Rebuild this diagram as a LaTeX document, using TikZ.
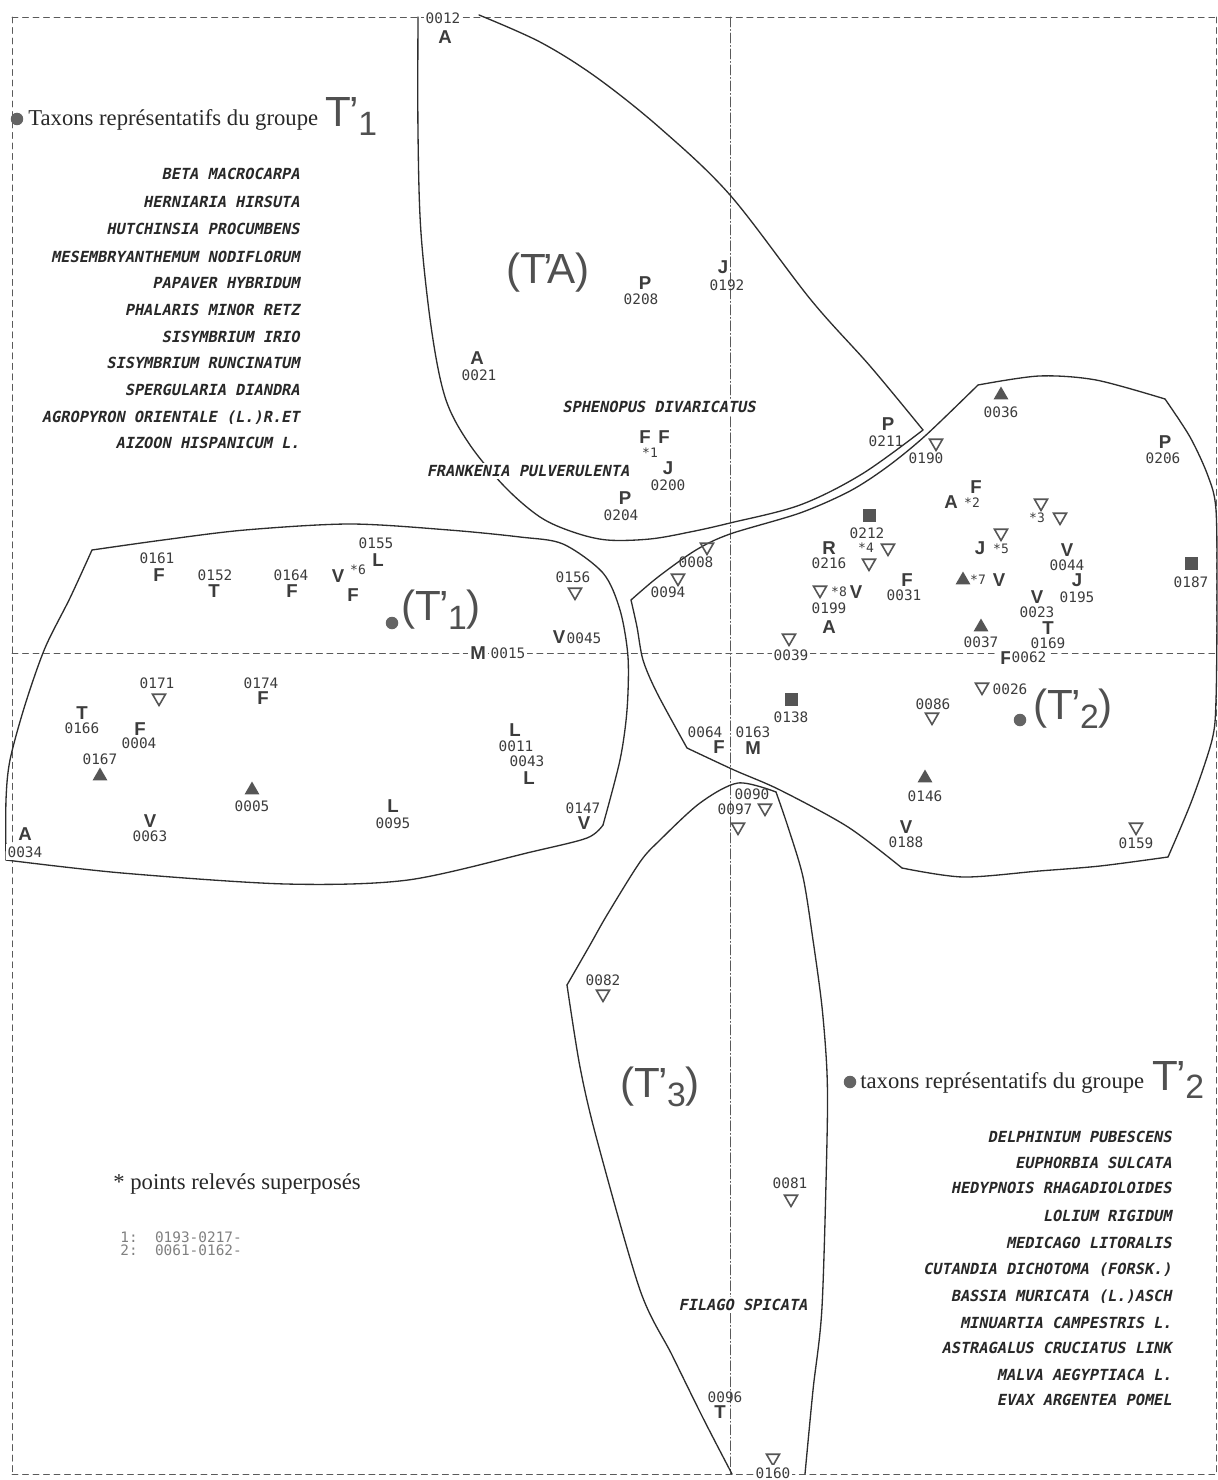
\documentclass[tikz,border=0pt]{standalone}
\usepackage{fontspec,graphicx}
\setmainfont{Liberation Serif}
\newfontfamily\letfont{Liberation Sans}
\newfontfamily\numfont{DejaVu Sans Mono}
\newfontfamily\specfont{DejaVu Sans Mono}[FakeSlant=0.2]
\usetikzlibrary{shapes.geometric}
\definecolor{linec}{RGB}{45,45,45}
\definecolor{txtc}{RGB}{40,40,40}
\definecolor{letc}{RGB}{60,60,60}
\definecolor{numc}{RGB}{60,60,60}
\definecolor{symc}{RGB}{85,85,85}
\definecolor{dotc}{RGB}{100,100,100}
\definecolor{bigc}{RGB}{80,80,80}
\definecolor{frmc}{RGB}{90,90,90}
\newcommand{\tpr}[1]{T\kern-0.03em’\kern-0.02em\raisebox{-0.2em}{\scalebox{0.8}{#1}}}

\begin{document}
\begin{tikzpicture}[x=0.02cm, y=-0.02cm, line cap=round,
  hull/.style={draw=linec, line width=0.75pt},
  frm/.style={draw=frmc, line width=0.5pt, dash pattern=on 0.12cm off 0.09cm},
  axv/.style={draw=frmc, line width=0.55pt, dash pattern=on 0.2cm off 0.05cm on 0.02cm off 0.05cm},
  lett/.style={font=\letfont\bfseries\fontsize{10.6}{12}\selectfont, text=letc, inner sep=0pt},
  numb/.style={font=\numfont\fontsize{8.2}{9}\selectfont, text=numc, inner sep=0pt},
  starm/.style={font=\numfont\fontsize{7.4}{8}\selectfont, text=numc, inner sep=0pt},
  spec/.style={font=\specfont\bfseries\fontsize{8.7}{10}\selectfont, text=txtc, inner sep=0pt},
  onwhite/.style={fill=white, inner sep=1.2pt},
  trdn/.style={regular polygon, regular polygon sides=3, shape border rotate=180, draw=symc, line width=0.9pt, minimum size=0.3cm, inner sep=0pt},
  trup/.style={regular polygon, regular polygon sides=3, fill=symc, minimum size=0.34cm, inner sep=0pt},
  sqr/.style={rectangle, fill=symc, minimum size=0.26cm, inner sep=0pt},
  cdot/.style={circle, fill=dotc, minimum size=0.25cm, inner sep=0pt},
  big/.style={font=\letfont\fontsize{24}{26}\selectfont, text=bigc, inner sep=0pt},
  head/.style={font=\fontsize{12.9}{15}\selectfont, text=txtc, inner sep=0pt, anchor=base west}]
        \fill[white] (0,0) rectangle (1217,1480);
        \useasboundingbox (0,0) rectangle (1217,1480);
        %\draw [step=100, very thin, lightgray] (0,0) grid (1217,1480);

        % frame and axes
        \draw[frm] (12,17) -- (1216,17);
        \draw[frm] (12,1474) -- (1216,1474);
        \draw[frm] (12,17) -- (12,1474);
        \draw[frm] (1216,17) -- (1216,1474);
        \draw[frm] (12,653) -- (1216,653);
        \draw[axv] (730,17) -- (730,1474);

        % group T'A
        \draw[hull] plot[smooth, tension=0.55] coordinates {(418,17) (418,133) (421,233) (432,333) (446,400) (470,445) (505,487) (540,517) (573,532) (607,540) (650,539) (690,532) (730,523) (800,505) (862,474) (923,430)};
        \draw[hull] plot[smooth, tension=0.55] coordinates {(923,430) (870,366) (811,300) (730,195) (660,128) (596,77) (540,42) (479,15)};

        % group T'1
        \draw[hull] plot[smooth, tension=0.5] coordinates {(92,550) (163,540) (245,530) (350,524) (449,530) (520,537) (563,544) (603,573) (620,610) (628,657) (627,710) (620,760) (603,825)};
        \draw[hull] plot[smooth, tension=0.5] coordinates {(603,825) (587,838) (531,852) (408,880) (286,884) (122,873) (6,860)};
        \draw[hull] plot[smooth, tension=0.5] coordinates {(6,860) (6,800) (10,760) (25,705) (45,648) (70,598) (92,550)};

        % group T'2
        \draw[hull] plot[smooth, tension=0.5] coordinates {(631,600) (658,577) (696,550) (730,534) (800,513) (850,491) (887,467) (925,436) (978,385)};
        \draw[hull] plot[smooth, tension=0.5] coordinates {(978,385) (1039,376) (1096,380) (1165,399)};
        \draw[hull] plot[smooth, tension=0.5] coordinates {(1165,399) (1190,437) (1208,476) (1216,510) (1217,600) (1216,700) (1212,740) (1192,800) (1168,857)};
        \draw[hull] plot[smooth, tension=0.5] coordinates {(1168,857) (1100,866) (1039,871) (963,877) (902,868)};
        \draw[hull] plot[smooth, tension=0.5] coordinates {(902,868) (848,827) (780,790) (734,770) (687,748)};
        \draw[hull] plot[smooth, tension=0.5] coordinates {(687,748) (657,693) (643,660) (637,627) (631,600)};

        % group T'3
        \draw[hull] plot[smooth, tension=0.5] coordinates {(567,985) (590,945) (607,915) (640,862) (660,840) (700,803) (738,783) (776,792)};
        \draw[hull] plot[smooth, tension=0.5] coordinates {(776,792) (788,827) (803,877) (813,940) (822,1007) (827,1073) (827,1140) (822,1307) (813,1390) (805,1474)};
        \draw[hull] plot[smooth, tension=0.5] coordinates {(732,1474) (703,1418) (672,1355) (640,1290) (597,1140) (580,1067) (567,985)};

        % headings and species lists
        \node[cdot] (hd1) at (17,119) {};
        \node[head] (ht1) at (28,126) {Taxons représentatifs du groupe};
        \node[big, anchor=base west] (hg1) at (325,127) {\tpr{1}};
        \node[spec, anchor=base east] (sa1) at (300,180) {BETA MACROCARPA};
        \node[spec, anchor=base east] (sa2) at (300,208) {HERNIARIA HIRSUTA};
        \node[spec, anchor=base east] (sa3) at (300,235) {HUTCHINSIA PROCUMBENS};
        \node[spec, anchor=base east] (sa4) at (300,262) {MESEMBRYANTHEMUM NODIFLORUM};
        \node[spec, anchor=base east] (sa5) at (300,288) {PAPAVER HYBRIDUM};
        \node[spec, anchor=base east] (sa6) at (300,315) {PHALARIS MINOR RETZ};
        \node[spec, anchor=base east] (sa7) at (300,342) {SISYMBRIUM IRIO};
        \node[spec, anchor=base east] (sa8) at (300,368) {SISYMBRIUM RUNCINATUM};
        \node[spec, anchor=base east] (sa9) at (300,395) {SPERGULARIA DIANDRA};
        \node[spec, anchor=base east] (sa10) at (300,422) {AGROPYRON ORIENTALE (L.)R.ET};
        \node[spec, anchor=base east] (sa11) at (300,448) {AIZOON HISPANICUM L.};

        \node[cdot] (hd2) at (850,1082) {};
        \node[head] (ht2) at (860,1088) {taxons représentatifs du groupe};
        \node[big, anchor=base west] (hg2) at (1152,1090) {\tpr{2}};
        \node[spec, anchor=base east] (sb1) at (1172,1142) {DELPHINIUM PUBESCENS};
        \node[spec, anchor=base east] (sb2) at (1172,1168) {EUPHORBIA SULCATA};
        \node[spec, anchor=base east] (sb3) at (1172,1193) {HEDYPNOIS RHAGADIOLOIDES};
        \node[spec, anchor=base east] (sb4) at (1172,1221) {LOLIUM RIGIDUM};
        \node[spec, anchor=base east] (sb5) at (1172,1248) {MEDICAGO LITORALIS};
        \node[spec, anchor=base east] (sb6) at (1172,1274) {CUTANDIA DICHOTOMA (FORSK.)};
        \node[spec, anchor=base east] (sb7) at (1172,1301) {BASSIA MURICATA (L.)ASCH};
        \node[spec, anchor=base east] (sb8) at (1172,1328) {MINUARTIA CAMPESTRIS L.};
        \node[spec, anchor=base east] (sb9) at (1172,1353) {ASTRAGALUS CRUCIATUS LINK};
        \node[spec, anchor=base east] (sb10) at (1172,1380) {MALVA AEGYPTIACA L.};
        \node[spec, anchor=base east] (sb11) at (1172,1405) {EVAX ARGENTEA POMEL};

        \node[head] (note) at (113,1189) {* points relevés superposés};
        \node[numb, anchor=west, text=gray] (nt1) at (120,1237) {1:\ \ 0193-0217-};
        \node[numb, anchor=west, text=gray] (nt2) at (120,1250) {2:\ \ 0061-0162-};

        % big group labels
        \node[big] (gTA) at (548,273) {(T\kern-0.07em’\kern-0.12em A)};
        \node[cdot] (c1) at (392,623) {};
        \node[big] (gT1) at (441,610) {(\tpr{1})};
        \node[cdot] (c2) at (1020,720) {};
        \node[big] (gT2) at (1073,709) {(\tpr{2})};
        \node[big] (gT3) at (660,1087) {(\tpr{3})};

        % T'A points
        \node[numb, onwhite] (n0012) at (443,18) {0012};
        \node[lett] (l0012) at (445,37) {A};
        \node[lett] (l0192) at (723,267) {J};
        \node[numb] (n0192) at (727,285) {0192};
        \node[lett] (l0208) at (645,283) {P};
        \node[numb] (n0208) at (641,299) {0208};
        \node[lett] (l0021) at (477,358) {A};
        \node[numb] (n0021) at (479,375) {0021};
        \node[spec, onwhite] (sphe) at (659,407) {SPHENOPUS DIVARICATUS};
        \node[lett] (la1) at (645,437) {F};
        \node[lett] (lb1) at (664,437) {F};
        \node[starm] (st1) at (650,453) {*1};
        \node[spec, onwhite] (fran) at (528,471) {FRANKENIA PULVERULENTA};
        \node[lett] (l0200) at (668,468) {J};
        \node[numb] (n0200) at (668,485) {0200};
        \node[lett] (l0204) at (625,498) {P};
        \node[numb] (n0204) at (621,515) {0204};
        \node[lett] (l0211) at (888,424) {P};
        \node[numb] (n0211) at (886,441) {0211};

        % T'2 points
        \node[trup] (s0036) at (1001,395) {};
        \node[numb] (n0036) at (1001,412) {0036};
        \node[trdn] (s0190) at (936,443) {};
        \node[numb] (n0190) at (926,458) {0190};
        \node[lett] (l0206) at (1165,442) {P};
        \node[numb] (n0206) at (1163,458) {0206};
        \node[lett] (lf2) at (976,487) {F};
        \node[lett] (la2) at (951,502) {A};
        \node[starm] (st2) at (972,503) {*2};
        \node[trdn] (sa3) at (1041,503) {};
        \node[starm] (st3) at (1037,518) {*3};
        \node[trdn] (sb3) at (1060,517) {};
        \node[sqr] (s0212) at (869,515) {};
        \node[numb] (n0212) at (867,533) {0212};
        \node[lett] (l0216) at (829,548) {R};
        \node[numb] (n0216) at (829,563) {0216};
        \node[starm] (st4) at (866,548) {*4};
        \node[trdn] (sa4) at (888,548) {};
        \node[trdn] (sb4) at (869,563) {};
        \node[trdn] (sa5) at (1001,533) {};
        \node[lett] (lj5) at (980,548) {J};
        \node[starm] (st5) at (1001,549) {*5};
        \node[lett] (l0044) at (1067,550) {V};
        \node[numb] (n0044) at (1067,565) {0044};
        \node[trup] (sa7) at (963,580) {};
        \node[starm] (st7) at (978,580) {*7};
        \node[lett] (lv7) at (999,580) {V};
        \node[lett] (l0195) at (1077,580) {J};
        \node[numb] (n0195) at (1077,597) {0195};
        \node[sqr] (s0187) at (1191,563) {};
        \node[numb] (n0187) at (1191,582) {0187};
        \node[trdn] (sa8) at (820,590) {};
        \node[starm] (st8) at (839,592) {*8};
        \node[lett] (lv8) at (856,592) {V};
        \node[numb] (n0199) at (829,608) {0199};
        \node[lett] (l0199) at (829,627) {A};
        \node[lett] (l0031) at (907,580) {F};
        \node[numb] (n0031) at (904,595) {0031};
        \node[lett] (l0023) at (1037,597) {V};
        \node[numb] (n0023) at (1037,612) {0023};
        \node[trup] (s0037) at (981,627) {};
        \node[numb] (n0037) at (981,642) {0037};
        \node[lett] (l0169) at (1048,628) {T};
        \node[numb] (n0169) at (1048,643) {0169};
        \node[trdn] (s0039) at (789,638) {};
        \node[numb, onwhite] (n0039) at (791,655) {0039};
        \node[lett, onwhite] (l0062) at (1006,658) {F};
        \node[numb, onwhite] (n0062) at (1029,657) {0062};
        \node[trdn] (s0008) at (707,547) {};
        \node[numb] (n0008) at (696,562) {0008};
        \node[trdn] (s0094) at (678,578) {};
        \node[numb] (n0094) at (668,592) {0094};
        \node[trdn] (s0026) at (982,687) {};
        \node[numb] (n0026) at (1010,689) {0026};
        \node[sqr] (s0138) at (791,699) {};
        \node[numb] (n0138) at (791,717) {0138};
        \node[numb] (n0086) at (933,704) {0086};
        \node[trdn] (s0086) at (932,717) {};
        \node[numb] (n0064) at (705,732) {0064};
        \node[numb] (n0163) at (753,732) {0163};
        \node[lett] (l0064) at (719,747) {F};
        \node[lett] (l0163) at (753,748) {M};
        \node[trup] (s0146) at (925,778) {};
        \node[numb] (n0146) at (925,796) {0146};
        \node[numb] (n0090) at (752,794) {0090};
        \node[numb] (n0097) at (735,809) {0097};
        \node[trdn] (s0090) at (765,808) {};
        \node[trdn] (s0097) at (738,827) {};
        \node[lett] (l0188) at (906,827) {V};
        \node[numb] (n0188) at (906,842) {0188};
        \node[trdn] (s0159) at (1136,827) {};
        \node[numb] (n0159) at (1136,843) {0159};

        % T'1 points
        \node[numb] (n0155) at (376,543) {0155};
        \node[lett] (l0155) at (378,560) {L};
        \node[numb] (n0161) at (157,558) {0161};
        \node[lett] (l0161) at (159,575) {F};
        \node[numb] (n0152) at (215,575) {0152};
        \node[lett] (l0152) at (214,591) {T};
        \node[numb] (n0164) at (291,575) {0164};
        \node[lett] (l0164) at (292,591) {F};
        \node[lett] (lv6) at (338,576) {V};
        \node[starm] (st6) at (358,570) {*6};
        \node[lett] (lf6) at (353,595) {F};
        \node[numb] (n0156) at (573,577) {0156};
        \node[trdn] (s0156) at (575,592) {};
        \node[lett] (l0045) at (559,637) {V};
        \node[numb] (n0045) at (584,638) {0045};
        \node[lett, onwhite] (l0015) at (478,653) {M};
        \node[numb, onwhite] (n0015) at (508,653) {0015};
        \node[numb] (n0171) at (157,683) {0171};
        \node[trdn] (s0171) at (159,698) {};
        \node[numb] (n0174) at (261,683) {0174};
        \node[lett] (l0174) at (263,698) {F};
        \node[lett] (l0166) at (82,713) {T};
        \node[numb] (n0166) at (82,728) {0166};
        \node[lett] (l0004) at (140,729) {F};
        \node[numb] (n0004) at (139,743) {0004};
        \node[numb] (n0167) at (100,759) {0167};
        \node[trup] (s0167) at (100,776) {};
        \node[trup] (s0005) at (252,790) {};
        \node[numb] (n0005) at (252,806) {0005};
        \node[lett] (l0011) at (515,730) {L};
        \node[numb] (n0011) at (516,746) {0011};
        \node[numb] (n0043) at (527,761) {0043};
        \node[lett] (l0043) at (529,778) {L};
        \node[lett] (l0095) at (393,806) {L};
        \node[numb] (n0095) at (393,823) {0095};
        \node[lett] (l0063) at (150,821) {V};
        \node[numb] (n0063) at (150,836) {0063};
        \node[numb] (n0147) at (583,808) {0147};
        \node[lett] (l0147) at (584,823) {V};
        \node[lett] (l0034) at (25,834) {A};
        \node[numb, onwhite] (n0034) at (25,852) {0034};

        % T'3 points
        \node[numb] (n0082) at (603,980) {0082};
        \node[trdn] (s0082) at (603,994) {};
        \node[numb] (n0081) at (790,1183) {0081};
        \node[trdn] (s0081) at (791,1199) {};
        \node[spec, onwhite] (fila) at (743,1305) {FILAGO SPICATA};
        \node[numb] (n0096) at (725,1397) {0096};
        \node[lett] (l0096) at (720,1412) {T};
        \node[trdn] (s0160) at (773,1458) {};
        \node[numb, onwhite] (n0160) at (773,1473) {0160};
\end{tikzpicture}
\end{document}
